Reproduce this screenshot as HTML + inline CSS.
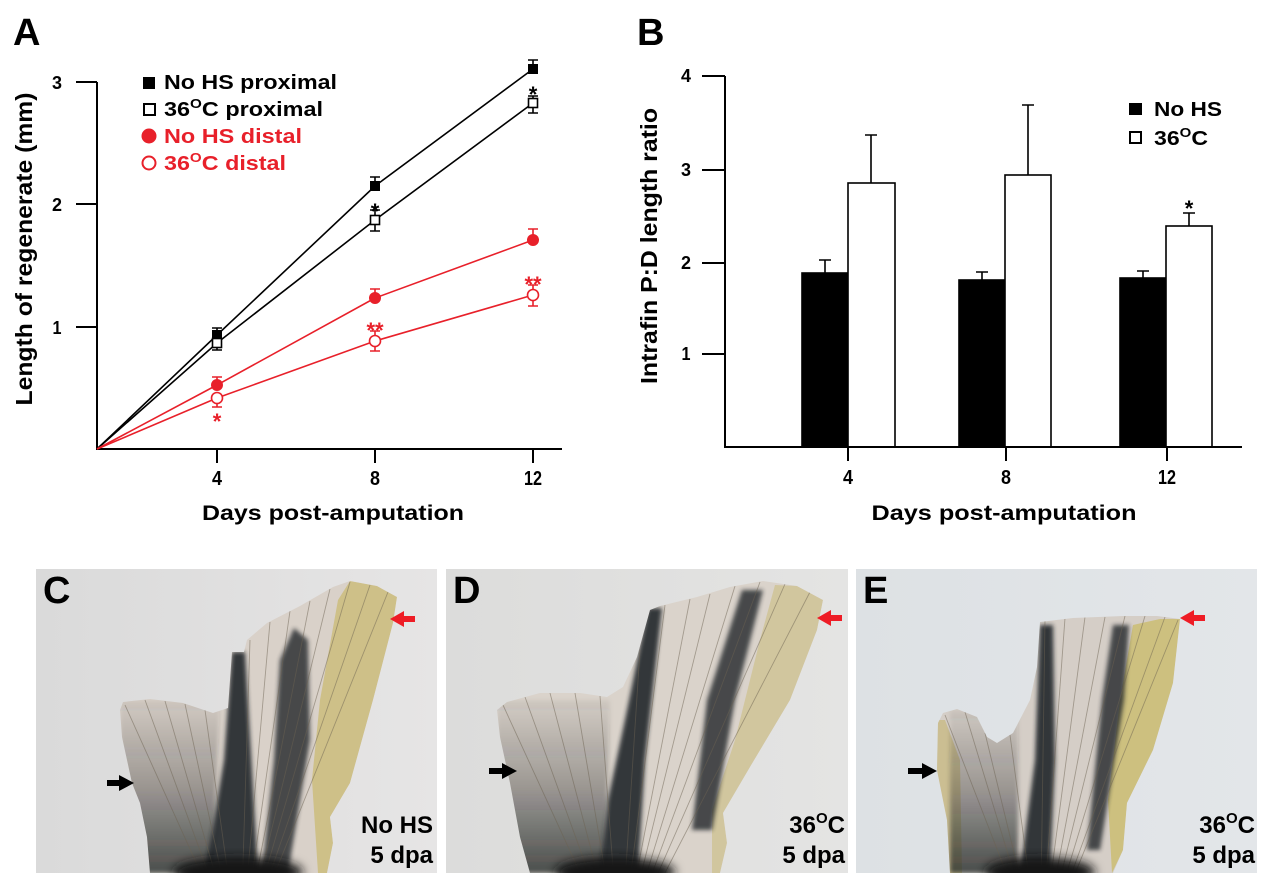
<!DOCTYPE html>
<html>
<head>
<meta charset="utf-8">
<style>
html,body{margin:0;padding:0;background:#fff;width:1280px;height:890px;overflow:hidden;}
svg{display:block;}
text{font-family:"Liberation Sans",Arial,sans-serif;font-weight:bold;}
</style>
</head>
<body>
<svg width="1280" height="890" viewBox="0 0 1280 890" xmlns="http://www.w3.org/2000/svg" overflow="hidden">
<defs>
  <filter id="b2" x="-20%" y="-20%" width="140%" height="140%"><feGaussianBlur stdDeviation="2"/></filter>
  <filter id="b4" x="-30%" y="-30%" width="160%" height="160%"><feGaussianBlur stdDeviation="5"/></filter>
  <linearGradient id="fade" x1="0" y1="0" x2="0" y2="1">
    <stop offset="0" stop-color="#2a2c2e" stop-opacity="0.05"/>
    <stop offset="0.5" stop-color="#2a2c2e" stop-opacity="0.35"/>
    <stop offset="1" stop-color="#1e2022" stop-opacity="0.75"/>
  </linearGradient>
  <linearGradient id="bgC" x1="0" y1="0" x2="1" y2="0">
    <stop offset="0" stop-color="#dadada"/><stop offset="1" stop-color="#e6e5e5"/>
  </linearGradient>
  <linearGradient id="bgD" x1="0" y1="0" x2="1" y2="0">
    <stop offset="0" stop-color="#dcdcdb"/><stop offset="1" stop-color="#e4e4e3"/>
  </linearGradient>
  <linearGradient id="bgE" x1="0" y1="0" x2="1" y2="0">
    <stop offset="0" stop-color="#dde1e4"/><stop offset="1" stop-color="#e3e6e9"/>
  </linearGradient>
  <clipPath id="clipC"><path d="M150,873 L147,837 L140,803 L132,783 L122,737 L120,710 L123,702 L150,699 L183,703 L213,713 L228,708 L232,652 L244,652 L247,640 L267,623 L300,606 L333,587 L350,581 L377,586 L397,597 L393,623 L373,700 L350,783 L330,817 L333,843 L327,873 Z"/></clipPath>
  <clipPath id="clipD"><path d="M530,873 L520,837 L510,783 L500,737 L497,710 L507,702 L540,693 L580,693 L607,697 L623,687 L637,657 L650,610 L660,606 L697,597 L730,587 L763,581 L797,586 L823,600 L817,630 L790,700 L750,767 L723,813 L727,843 L720,873 Z"/></clipPath>
  <clipPath id="clipE"><path d="M950,873 L947,820 L937,770 L938,723 L943,713 L957,709 L977,717 L987,737 L997,743 L1013,733 L1030,700 L1037,667 L1040,622 L1073,618 L1123,616 L1157,616 L1180,619 L1173,683 L1153,750 L1127,803 L1123,850 L1113,873 Z"/></clipPath>
</defs>
<rect width="1280" height="890" fill="#fff"/>

<!-- ================= PANEL A ================= -->
<text x="13" y="45" font-size="38">A</text>
<g stroke="#000" stroke-width="2" fill="none">
  <polyline points="97,82 97,449 562,449"/>
  <line x1="76" y1="82" x2="97" y2="82"/>
  <line x1="76" y1="204" x2="97" y2="204"/>
  <line x1="76" y1="327" x2="97" y2="327"/>
  <line x1="217" y1="449" x2="217" y2="463"/>
  <line x1="375" y1="449" x2="375" y2="463"/>
  <line x1="533" y1="449" x2="533" y2="463"/>
</g>
<g font-size="18" text-anchor="middle">
  <text x="57" y="89" textLength="10" lengthAdjust="spacingAndGlyphs">3</text>
  <text x="57" y="211" textLength="10" lengthAdjust="spacingAndGlyphs">2</text>
  <text x="57" y="334" textLength="9" lengthAdjust="spacingAndGlyphs">1</text>
</g>
<g font-size="20" text-anchor="middle">
  <text x="217" y="485" textLength="10" lengthAdjust="spacingAndGlyphs">4</text>
  <text x="375" y="485" textLength="10" lengthAdjust="spacingAndGlyphs">8</text>
  <text x="533" y="485" textLength="18" lengthAdjust="spacingAndGlyphs">12</text>
</g>
<text x="333" y="520" font-size="21" text-anchor="middle" textLength="262" lengthAdjust="spacingAndGlyphs">Days post-amputation</text>
<text transform="translate(32,249) rotate(-90)" x="0" y="0" font-size="23" text-anchor="middle" textLength="313" lengthAdjust="spacingAndGlyphs">Length of regenerate (mm)</text>

<!-- legend A -->
<rect x="143" y="77" width="12" height="12" fill="#000"/>
<rect x="144" y="104" width="11" height="11" fill="#fff" stroke="#000" stroke-width="2"/>
<circle cx="149" cy="136" r="7.5" fill="#e8202a"/>
<circle cx="149" cy="163" r="6.5" fill="#fff" stroke="#e8202a" stroke-width="2"/>
<text x="164" y="89" font-size="20" textLength="173" lengthAdjust="spacingAndGlyphs">No HS proximal</text>
<text x="164" y="116" font-size="20" textLength="159" lengthAdjust="spacingAndGlyphs">36<tspan font-size="13" dy="-8">O</tspan><tspan dy="8">C proximal</tspan></text>
<text x="164" y="143" font-size="20" fill="#e8202a" textLength="138" lengthAdjust="spacingAndGlyphs">No HS distal</text>
<text x="164" y="170" font-size="20" fill="#e8202a" textLength="122" lengthAdjust="spacingAndGlyphs">36<tspan font-size="13" dy="-8">O</tspan><tspan dy="8">C distal</tspan></text>

<!-- series lines -->
<g fill="none" stroke-width="1.6">
  <polyline stroke="#000" points="97,449 217,335 375,186 533,69"/>
  <polyline stroke="#000" points="97,449 217,343 375,220 533,103"/>
  <polyline stroke="#e8202a" points="97,449 217,385 375,298 533,240"/>
  <polyline stroke="#e8202a" points="97,449 217,398 375,341 533,295"/>
</g>
<g stroke="#000" stroke-width="1.6" fill="none">
  <path d="M217,335 V328 M212,328 H222"/>
  <path d="M375,186 V177 M370,177 H380"/>
  <path d="M533,69 V60 M528,60 H538"/>
  <path d="M217,343 V350 M212,350 H222"/>
  <path d="M375,210 V231 M370,210 H380 M370,231 H380"/>
  <path d="M533,96 V113 M528,96 H538 M528,113 H538"/>
</g>
<g stroke="#e8202a" stroke-width="1.6" fill="none">
  <path d="M217,385 V377 M212,377 H222"/>
  <path d="M375,298 V289 M370,289 H380"/>
  <path d="M533,240 V229 M528,229 H538"/>
  <path d="M217,398 V407 M212,407 H222"/>
  <path d="M375,331 V351 M370,331 H380 M370,351 H380"/>
  <path d="M533,285 V306 M528,285 H538 M528,306 H538"/>
</g>
<g fill="#000">
  <rect x="212" y="330" width="10" height="10"/>
  <rect x="370" y="181" width="10" height="10"/>
  <rect x="528" y="64" width="10" height="10"/>
</g>
<g fill="#fff" stroke="#000" stroke-width="1.6">
  <rect x="212.5" y="338.5" width="9" height="9"/>
  <rect x="370.5" y="215.5" width="9" height="9"/>
  <rect x="528.5" y="98.5" width="9" height="9"/>
</g>
<g fill="#e8202a">
  <circle cx="217" cy="385" r="6"/>
  <circle cx="375" cy="298" r="6"/>
  <circle cx="533" cy="240" r="6"/>
</g>
<g fill="#fff" stroke="#e8202a" stroke-width="1.6">
  <circle cx="217" cy="398" r="5.5"/>
  <circle cx="375" cy="341" r="5.5"/>
  <circle cx="533" cy="295" r="5.5"/>
</g>
<g font-size="22" text-anchor="middle">
  <text x="533" y="102">*</text>
  <text x="375" y="219">*</text>
  <text x="217" y="429" fill="#e8202a">*</text>
  <text x="375" y="338" fill="#e8202a">**</text>
  <text x="533" y="292" fill="#e8202a">**</text>
</g>

<!-- ================= PANEL B ================= -->
<text x="637" y="45" font-size="38">B</text>
<g stroke="#000" stroke-width="1.6">
  <rect x="802" y="273" width="46" height="174" fill="#000"/>
  <rect x="848" y="183" width="47" height="264" fill="#fff"/>
  <rect x="959" y="280" width="46" height="167" fill="#000"/>
  <rect x="1005" y="175" width="46" height="272" fill="#fff"/>
  <rect x="1120" y="278" width="46" height="169" fill="#000"/>
  <rect x="1166" y="226" width="46" height="221" fill="#fff"/>
</g>
<g stroke="#000" stroke-width="1.6" fill="none">
  <path d="M825,273 V260 M819,260 H831"/>
  <path d="M871,183 V135 M865,135 H877"/>
  <path d="M982,280 V272 M976,272 H988"/>
  <path d="M1028,175 V105 M1022,105 H1034"/>
  <path d="M1143,278 V271 M1137,271 H1149"/>
  <path d="M1189,226 V213 M1183,213 H1195"/>
</g>
<g stroke="#000" stroke-width="2" fill="none">
  <polyline points="725,76 725,447 1242,447"/>
  <line x1="702" y1="76" x2="725" y2="76"/>
  <line x1="702" y1="170" x2="725" y2="170"/>
  <line x1="702" y1="263" x2="725" y2="263"/>
  <line x1="702" y1="354" x2="725" y2="354"/>
  <line x1="848" y1="447" x2="848" y2="461"/>
  <line x1="1006" y1="447" x2="1006" y2="461"/>
  <line x1="1167" y1="447" x2="1167" y2="461"/>
</g>
<g font-size="18" text-anchor="middle">
  <text x="686" y="82" textLength="10" lengthAdjust="spacingAndGlyphs">4</text>
  <text x="686" y="176" textLength="10" lengthAdjust="spacingAndGlyphs">3</text>
  <text x="686" y="269" textLength="10" lengthAdjust="spacingAndGlyphs">2</text>
  <text x="686" y="360" textLength="9" lengthAdjust="spacingAndGlyphs">1</text>
</g>
<g font-size="20" text-anchor="middle">
  <text x="848" y="484" textLength="10" lengthAdjust="spacingAndGlyphs">4</text>
  <text x="1006" y="484" textLength="10" lengthAdjust="spacingAndGlyphs">8</text>
  <text x="1167" y="484" textLength="18" lengthAdjust="spacingAndGlyphs">12</text>
</g>
<text x="1004" y="520" font-size="21" text-anchor="middle" textLength="265" lengthAdjust="spacingAndGlyphs">Days post-amputation</text>
<text transform="translate(657,246) rotate(-90)" x="0" y="0" font-size="23" text-anchor="middle" textLength="276" lengthAdjust="spacingAndGlyphs">Intrafin P:D length ratio</text>
<text x="1189" y="216" font-size="22" text-anchor="middle">*</text>
<rect x="1129" y="103" width="13" height="12" fill="#000"/>
<rect x="1130" y="132" width="11" height="11" fill="#fff" stroke="#000" stroke-width="2"/>
<text x="1154" y="116" font-size="20" textLength="68" lengthAdjust="spacingAndGlyphs">No HS</text>
<text x="1154" y="145" font-size="20" textLength="54" lengthAdjust="spacingAndGlyphs">36<tspan font-size="13" dy="-8">O</tspan><tspan dy="8">C</tspan></text>

<!-- ================= PHOTO C ================= -->
<rect x="36" y="569" width="401" height="304" fill="url(#bgC)"/>
<g clip-path="url(#clipC)">
  <rect x="110" y="575" width="300" height="298" fill="#d9d1c9"/>
  <polygon points="318,873 327,873 333,843 330,817 350,783 373,700 393,623 397,597 377,586 350,581 338,600 320,700 312,780" fill="#cbbd7c" opacity="0.85"/>
  <polygon points="120,873 212,873 220,700 120,700" fill="url(#fade)" filter="url(#b2)"/>
  <polygon points="205,873 258,873 245,652 232,652 224,760" fill="#1f2326" opacity="0.88" filter="url(#b2)"/>
  <polygon points="262,873 288,873 310,740 308,640 294,628 280,660 274,760" fill="#22272a" opacity="0.8" filter="url(#b2)"/>
  <g stroke="#6d6352" stroke-width="0.9" opacity="0.5">
    <line x1="200.8" y1="873" x2="125" y2="705"/><line x1="208.2" y1="873" x2="145" y2="700"/>
    <line x1="214.8" y1="873" x2="165" y2="701"/><line x1="221.3" y1="873" x2="185" y2="704"/>
    <line x1="227.8" y1="873" x2="205" y2="710"/><line x1="242.7" y1="873" x2="250" y2="640"/>
    <line x1="247.7" y1="873" x2="270" y2="622"/><line x1="252.5" y1="873" x2="290" y2="611"/>
    <line x1="256.9" y1="873" x2="310" y2="601"/><line x1="261.1" y1="873" x2="330" y2="589"/>
    <line x1="265.3" y1="873" x2="350" y2="582"/><line x1="270.2" y1="873" x2="370" y2="585"/>
    <line x1="275" y1="873" x2="388" y2="592"/>
  </g>
  <ellipse cx="238" cy="872" rx="65" ry="15" fill="#151515" filter="url(#b4)"/>
</g>
<text x="43" y="603" font-size="38">C</text>
<text x="433" y="833" font-size="24" text-anchor="end">No HS</text>
<text x="433" y="863" font-size="24" text-anchor="end">5 dpa</text>
<rect x="107" y="780" width="14" height="6" fill="#000"/>
<polygon points="119,775 134,783 119,791" fill="#000"/>
<polygon points="390,619 404,611 404,627" fill="#ee1c25"/>
<rect x="403" y="616" width="12" height="6" fill="#ee1c25"/>

<!-- ================= PHOTO D ================= -->
<rect x="446" y="569" width="402" height="304" fill="url(#bgD)"/>
<g clip-path="url(#clipD)">
  <rect x="490" y="575" width="340" height="298" fill="#dad3cb"/>
  <polygon points="712,873 720,873 727,843 723,813 750,767 790,700 817,630 823,600 797,586 775,585 760,640 735,740 712,810" fill="#cdc08a" opacity="0.7"/>
  <polygon points="497,873 605,873 610,700 497,700" fill="url(#fade)" filter="url(#b2)"/>
  <polygon points="600,873 638,873 645,760 662,608 648,608 625,720 608,800" fill="#1f2326" opacity="0.88" filter="url(#b2)"/>
  <polygon points="692,830 712,830 735,700 763,590 742,590 707,700" fill="#22272a" opacity="0.8" filter="url(#b2)"/>
  <g stroke="#6d6352" stroke-width="0.9" opacity="0.5">
    <line x1="580.1" y1="873" x2="503" y2="705"/><line x1="588.6" y1="873" x2="525" y2="697"/>
    <line x1="597.2" y1="873" x2="550" y2="693"/><line x1="605.3" y1="873" x2="575" y2="693"/>
    <line x1="613.4" y1="873" x2="600" y2="696"/><line x1="625.6" y1="873" x2="640" y2="650"/>
    <line x1="631" y1="873" x2="665" y2="605"/><line x1="636.9" y1="873" x2="690" y2="599"/>
    <line x1="641.4" y1="873" x2="710" y2="594"/><line x1="646.8" y1="873" x2="735" y2="586"/>
    <line x1="652.2" y1="873" x2="760" y2="582"/><line x1="658.1" y1="873" x2="785" y2="584"/>
    <line x1="664.9" y1="873" x2="810" y2="592"/>
  </g>
  <ellipse cx="615" cy="872" rx="60" ry="15" fill="#151515" filter="url(#b4)"/>
</g>
<text x="453" y="603" font-size="38">D</text>
<text x="845" y="833" font-size="24" text-anchor="end">36<tspan font-size="15" dy="-10">O</tspan><tspan dy="10">C</tspan></text>
<text x="845" y="863" font-size="24" text-anchor="end">5 dpa</text>
<rect x="489" y="768" width="15" height="6" fill="#000"/>
<polygon points="502,763 517,771 502,779" fill="#000"/>
<polygon points="817,618 831,610 831,626" fill="#ee1c25"/>
<rect x="830" y="615" width="12" height="6" fill="#ee1c25"/>

<!-- ================= PHOTO E ================= -->
<rect x="856" y="569" width="401" height="304" fill="url(#bgE)"/>
<g clip-path="url(#clipE)">
  <rect x="930" y="610" width="260" height="263" fill="#d5cec7"/>
  <polygon points="1112,873 1123,850 1127,803 1153,750 1173,683 1180,619 1160,619 1133,625 1120,700 1108,800" fill="#cbbd72" opacity="0.85"/>
  <polygon points="937,873 962,873 960,760 945,720 935,720" fill="#c6b87c" opacity="0.7"/>
  <polygon points="950,873 1018,873 1018,710 950,710" fill="url(#fade)" filter="url(#b2)"/>
  <polygon points="1020,873 1050,873 1055,760 1053,625 1040,625 1035,760" fill="#1f2326" opacity="0.88" filter="url(#b2)"/>
  <polygon points="1087,850 1100,850 1124,700 1129,625 1113,625 1102,700" fill="#22272a" opacity="0.8" filter="url(#b2)"/>
  <g stroke="#6d6352" stroke-width="0.9" opacity="0.5">
    <line x1="1006.3" y1="873" x2="945" y2="715"/><line x1="1013.7" y1="873" x2="965" y2="712"/>
    <line x1="1018.9" y1="873" x2="985" y2="733"/><line x1="1028.4" y1="873" x2="1010" y2="735"/>
    <line x1="1041.3" y1="873" x2="1045" y2="620"/><line x1="1046.4" y1="873" x2="1065" y2="618"/>
    <line x1="1051.4" y1="873" x2="1085" y2="617"/><line x1="1056.5" y1="873" x2="1105" y2="617"/>
    <line x1="1061.5" y1="873" x2="1125" y2="616"/><line x1="1066.6" y1="873" x2="1145" y2="616"/>
    <line x1="1071.7" y1="873" x2="1165" y2="617"/><line x1="1075.3" y1="873" x2="1178" y2="620"/>
  </g>
  <ellipse cx="1040" cy="872" rx="55" ry="15" fill="#151515" filter="url(#b4)"/>
</g>
<text x="863" y="603" font-size="38">E</text>
<text x="1255" y="833" font-size="24" text-anchor="end">36<tspan font-size="15" dy="-10">O</tspan><tspan dy="10">C</tspan></text>
<text x="1255" y="863" font-size="24" text-anchor="end">5 dpa</text>
<rect x="908" y="768" width="16" height="6" fill="#000"/>
<polygon points="922,763 937,771 922,779" fill="#000"/>
<polygon points="1180,618 1194,610 1194,626" fill="#ee1c25"/>
<rect x="1193" y="615" width="12" height="6" fill="#ee1c25"/>
</svg>
</body>
</html>
